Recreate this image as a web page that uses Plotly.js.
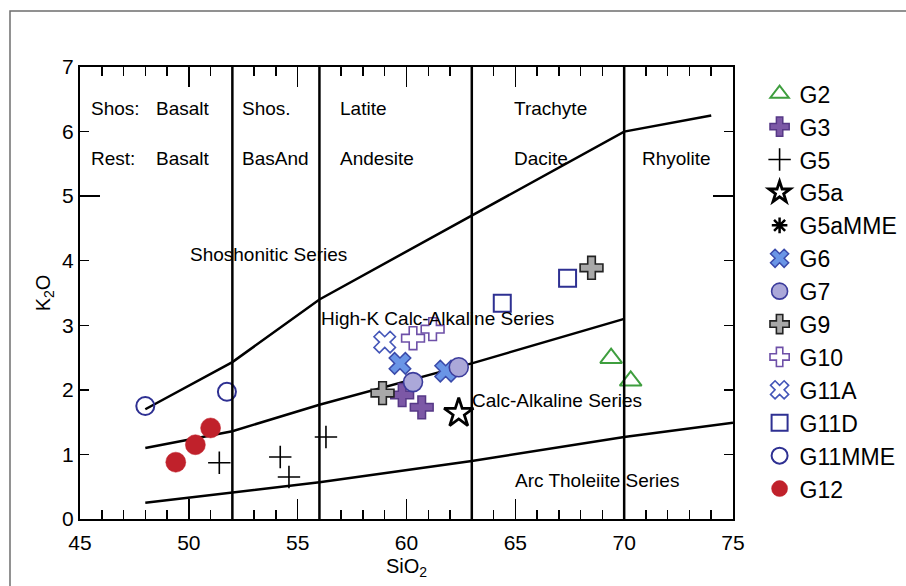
<!DOCTYPE html>
<html>
<head>
<meta charset="utf-8">
<script src="https://cdn.plot.ly/plotly-3.0.1.min.js"></script>
<style>html,body{margin:0;padding:0;background:#fff}#chart{width:906px;height:586px}</style>
</head>
<body>
<div id="chart"></div>
<script>
// ---- sample data (SiO2, K2O) ----
const g2Si = [69.4, 70.3],               g2K = [2.49, 2.14];
const g3Si = [59.8, 60.7],               g3K = [1.92, 1.73];
const g5Si = [51.4, 54.2, 54.6, 56.3],   g5K = [0.87, 0.96, 0.65, 1.27];
const g5aSi = [62.4],                    g5aK = [1.64];
const g5aMMESi = [],                     g5aMMEK = [];
const g6Si = [59.7, 61.8],               g6K = [2.41, 2.29];
const g7Si = [60.3, 62.4],               g7K = [2.12, 2.35];
const g9Si = [58.9, 68.5],               g9K = [1.95, 3.89];
const g10Si = [60.3, 61.2],              g10K = [2.80, 2.94];
const g11ASi = [59.0],                   g11AK = [2.74];
const g11DSi = [64.4, 67.4],             g11DK = [3.34, 3.73];
const g11MMESi = [48.0, 51.75],          g11MMEK = [1.75, 1.97];
const g12Si = [49.4, 50.3, 51.0],        g12K = [0.88, 1.15, 1.41];

// ---- classification boundaries ----
const shoSi = [48, 52, 56, 63, 70, 74],  shoK = [1.7, 2.43, 3.4, 4.7, 6.0, 6.25];
const hkSi  = [48, 52, 56, 63, 70],      hkK  = [1.1, 1.36, 1.77, 2.41, 3.1];
const caSi  = [48, 52, 56, 63, 70, 75],  caK  = [0.25, 0.41, 0.57, 0.9, 1.27, 1.49];
const fieldSi = [52, 56, 63, 70];
const fieldK = [0, 7];

const FONT = 'Liberation Sans, Arial, Helvetica, sans-serif';

function orNull(a){ return a.length ? a : [null]; }

const vx = [], vy = [];
fieldSi.forEach(s => { vx.push(s, s, null); vy.push(fieldK[0], fieldK[1], null); });

const lineStyle = {color: 'black', width: 2.5};
const traces = [
  {x: shoSi, y: shoK, mode: 'lines', line: lineStyle, showlegend: false, hoverinfo: 'skip'},
  {x: hkSi, y: hkK, mode: 'lines', line: lineStyle, showlegend: false, hoverinfo: 'skip'},
  {x: caSi, y: caK, mode: 'lines', line: lineStyle, showlegend: false, hoverinfo: 'skip'},
  {x: vx, y: vy, yaxis: 'y2', mode: 'lines', line: lineStyle, showlegend: false, hoverinfo: 'skip'},

  {name: 'G2', x: g2Si, y: g2K, mode: 'markers',
   marker: {symbol: 'triangle-up-open', size: 19, color: '#3e9e3e', line: {width: 2, color: '#3e9e3e'}}},
  {name: 'G3', x: g3Si, y: g3K, mode: 'markers',
   marker: {symbol: 'cross', size: 19, color: '#7c58a6', line: {width: 1.5, color: '#563886'}}},
  {name: 'G5', x: g5Si, y: g5K, mode: 'markers',
   marker: {symbol: 'cross-thin-open', size: 16, color: 'black', line: {width: 1.6, color: 'black'}}},
  {name: 'G5a', x: g5aSi, y: g5aK, mode: 'markers',
   marker: {symbol: 'star', size: 22, color: 'white', line: {width: 2.8, color: 'black'}}},
  {name: 'G5aMME', x: orNull(g5aMMESi), y: orNull(g5aMMEK), mode: 'markers',
   marker: {symbol: 'asterisk-open', size: 13, color: 'black', line: {width: 2.5, color: 'black'}}},
  {name: 'G6', x: g6Si, y: g6K, mode: 'markers',
   marker: {symbol: 'x', size: 19, color: '#6a95e6', line: {width: 1.5, color: '#3a4aaa'}}},
  {name: 'G7', x: g7Si, y: g7K, mode: 'markers',
   marker: {symbol: 'circle', size: 19, color: '#aba8d9', line: {width: 1.6, color: '#3c3c9c'}}},
  {name: 'G9', x: g9Si, y: g9K, mode: 'markers',
   marker: {symbol: 'cross', size: 19, color: '#a8a8a8', line: {width: 1.6, color: '#222'}}},
  {name: 'G10', x: g10Si, y: g10K, mode: 'markers',
   marker: {symbol: 'cross', size: 19, color: 'white', line: {width: 1.6, color: '#6e50a8'}}},
  {name: 'G11A', x: g11ASi, y: g11AK, mode: 'markers',
   marker: {symbol: 'x', size: 19, color: 'white', line: {width: 1.6, color: '#4456b8'}}},
  {name: 'G11D', x: g11DSi, y: g11DK, mode: 'markers',
   marker: {symbol: 'square-open', size: 17, color: '#2e3092', line: {width: 2, color: '#2e3092'}}},
  {name: 'G11MME', x: g11MMESi, y: g11MMEK, mode: 'markers',
   marker: {symbol: 'circle-open', size: 18, color: '#2e3092', line: {width: 2, color: '#2e3092'}}},
  {name: 'G12', x: g12Si, y: g12K, mode: 'markers',
   marker: {symbol: 'circle', size: 20, color: '#c0212b', line: {width: 0.5, color: '#c0212b'}}}
];

function lab(text, x, y){
  return {text: text, x: x, y: y, xref: 'x', yref: 'y', xanchor: 'left', yanchor: 'middle',
          showarrow: false, borderpad: 0, font: {family: FONT, size: 19, color: 'black'}};
}

const annotations = [
  lab('Shos:', 45.45, 6.36), lab('Basalt', 48.44, 6.36),
  lab('Rest:', 45.45, 5.59), lab('Basalt', 48.44, 5.59),
  lab('Shos.', 52.39, 6.36), lab('BasAnd', 52.39, 5.59),
  lab('Latite', 56.9, 6.36), lab('Andesite', 56.9, 5.59),
  lab('Trachyte', 64.88, 6.36), lab('Dacite', 64.88, 5.59),
  lab('Rhyolite', 70.76, 5.59),
  lab('Shoshonitic Series', 50.0, 4.10),
  lab('High-K Calc-Alkaline Series', 56.02, 3.10),
  lab('Calc-Alkaline Series', 62.95, 1.84),
  lab('Arc Tholeiite Series', 64.93, 0.59)
];

const layout = {
  width: 906, height: 586,
  margin: {l: 80, r: 173, t: 67, b: 67},
  paper_bgcolor: 'white', plot_bgcolor: 'white',
  font: {family: FONT, color: 'black', size: 19},
  showlegend: true,
  legend: {xref: 'container', yref: 'container', x: 0.8384, y: 0.8766, xanchor: 'left', yanchor: 'top',
           maxheight: 560,
           font: {family: FONT, size: 23, color: 'black'}, bgcolor: 'rgba(0,0,0,0)', borderwidth: 0},
  xaxis: {range: [45, 75], tick0: 45, dtick: 5, ticks: 'inside', ticklen: 20, tickwidth: 1.5,
          tickcolor: 'black', showline: true, linewidth: 2, linecolor: 'black', mirror: 'ticks',
          showgrid: false, zeroline: false,
          minor: {tick0: 45, dtick: 1, ticks: 'inside', ticklen: 9, tickwidth: 1.5, tickcolor: 'black', showgrid: false},
          tickfont: {family: FONT, size: 21}, ticklabelstandoff: 4,
          title: {text: 'SiO<sub>2</sub>', font: {family: FONT, size: 20}, standoff: 6}},
  yaxis: {range: [0, 7], tick0: 0, dtick: 1, ticks: 'inside', ticklen: 9, tickwidth: 1.5,
          tickcolor: 'black', showline: true, linewidth: 2, linecolor: 'black', mirror: 'ticks',
          showgrid: false, zeroline: false,
          tickfont: {family: FONT, size: 21},
          title: {text: 'K<sub>2</sub>O', font: {family: FONT, size: 20}, standoff: 6}},
  yaxis2: {overlaying: 'y', side: 'left', range: [0, 7], tick0: 0, dtick: 5, ticks: 'inside', ticklen: 20,
           tickwidth: 1.5, tickcolor: 'black', mirror: 'ticks', showline: false, showgrid: false,
           zeroline: false, showticklabels: false},
  annotations: annotations,
  shapes: [{type: 'rect', xref: 'paper', yref: 'paper', x0: -0.1072, x1: 1.4, y0: -0.3, y1: 1.1239,
            line: {color: '#6e6e6e', width: 1.5}, fillcolor: 'rgba(0,0,0,0)', layer: 'below'}]
};

Plotly.newPlot('chart', traces, layout, {displayModeBar: false, staticPlot: true});
</script>
</body>
</html>
